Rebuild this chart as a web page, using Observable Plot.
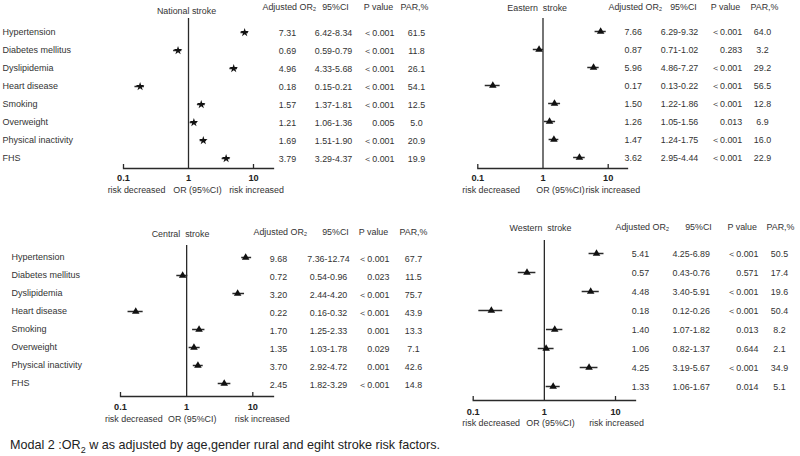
<!DOCTYPE html>
<html><head><meta charset="utf-8">
<script src="https://cdn.jsdelivr.net/npm/d3@7"></script>
<script src="https://cdn.jsdelivr.net/npm/@observablehq/plot@0.6"></script>
<style>
body{margin:0;background:#fff;font-family:"Liberation Sans",Arial,sans-serif;}
#wrap{position:relative;width:800px;height:456px;overflow:hidden;background:#fff;}
.panel{position:absolute;}
#caption{position:absolute;left:10px;top:438px;font-size:12.6px;line-height:14px;color:#222;white-space:pre;}
#caption sub{font-size:9px;}
</style></head><body>
<div id="wrap"><div id="caption">Modal 2 :OR<sub>2</sub> w as adjusted by age,gender rural and egiht stroke risk factors.</div></div>
<script>
// ---------- data ----------
const factors = ["Hypertension","Diabetes mellitus","Dyslipidemia","Heart disease","Smoking","Overweight","Physical inactivity","FHS"];
const axisTicks = [0.1, 1, 10];
const headers = ["Adjusted OR\u2082", "95%CI", "P value", "PAR,%"];
const bottomLabels = ["risk decreased", "OR (95%CI)", "risk increased"];

const nationalOR  = [7.31,0.69,4.96,0.18,1.57,1.21,1.69,3.79];
const nationalLo  = [6.42,0.59,4.33,0.15,1.37,1.06,1.51,3.29];
const nationalHi  = [8.34,0.79,5.68,0.21,1.81,1.36,1.90,4.37];
const nationalP   = ["\uFF1C0.001","\uFF1C0.001","\uFF1C0.001","\uFF1C0.001","\uFF1C0.001","0.005","\uFF1C0.001","\uFF1C0.001"];
const nationalPAR = [61.5,11.8,26.1,54.1,12.5,5.0,20.9,19.9];

const easternOR  = [7.66,0.87,5.96,0.17,1.50,1.26,1.47,3.62];
const easternLo  = [6.29,0.71,4.86,0.13,1.22,1.05,1.24,2.95];
const easternHi  = [9.32,1.02,7.27,0.22,1.86,1.56,1.75,4.44];
const easternP   = ["\uFF1C0.001","0.283","\uFF1C0.001","\uFF1C0.001","\uFF1C0.001","0.013","\uFF1C0.001","\uFF1C0.001"];
const easternPAR = [64.0,3.2,29.2,56.5,12.8,6.9,16.0,22.9];

const centralOR  = [9.68,0.72,3.20,0.22,1.70,1.35,3.70,2.45];
const centralLo  = [7.36,0.54,2.44,0.16,1.25,1.03,2.92,1.82];
const centralHi  = [12.74,0.96,4.20,0.32,2.33,1.78,4.72,3.29];
const centralP   = ["\uFF1C0.001","0.023","\uFF1C0.001","\uFF1C0.001","0.001","0.029","0.001","\uFF1C0.001"];
const centralPAR = [67.7,11.5,75.7,43.9,13.3,7.1,42.6,14.8];
// markers as actually drawn in the Central panel
const centralDrawnOR = [7.8,0.87,5.9,0.17,1.54,1.29,1.48,3.7];
const centralDrawnLo = [6.8,0.71,5.0,0.13,1.23,1.09,1.26,3.0];
const centralDrawnHi = [9.6,1.04,7.5,0.22,1.89,1.60,1.78,4.66];

const westernOR  = [5.41,0.57,4.48,0.18,1.40,1.06,4.25,1.33];
const westernLo  = [4.25,0.43,3.40,0.12,1.07,0.82,3.19,1.06];
const westernHi  = [6.89,0.76,5.91,0.26,1.82,1.37,5.67,1.67];
const westernP   = ["\uFF1C0.001","0.571","\uFF1C0.001","\uFF1C0.001","0.013","0.644","\uFF1C0.001","0.014"];
const westernPAR = [50.5,17.4,19.6,50.4,8.2,2.1,34.9,5.1];

// ---------- layout ----------
const panels = [
  {title:"National stroke", left:0, top:0, symbol:"star",
   or:nationalOR, lo:nationalLo, hi:nationalHi, dOr:nationalOR, dLo:nationalLo, dHi:nationalHi, p:nationalP, par:nationalPAR,
   x01:123, x10:253, axisEnd:273, rowTop:29.5, rowBot:159.5, valDy:1, labelX:2, lineTop:18, axisY:168, tickY:178, bottomY:190,
   titleX:186, titleY:11, bottomXs:[136,197,256], headY:7, headXs:[262,335,378,414], colXs:[287,333,394,416]},
  {title:"Eastern  stroke", left:400, top:0, symbol:"triangle",
   or:easternOR, lo:easternLo, hi:easternHi, dOr:easternOR, dLo:easternLo, dHi:easternHi, p:easternP, par:easternPAR,
   x01:77.3, x10:207.7, axisEnd:227, rowTop:29.5, rowBot:157.5, valDy:1, labelX:null, lineTop:18, axisY:168, tickY:178, bottomY:190,
   titleX:136.7, titleY:8, bottomXs:[90.7,160,212.3], headY:7, headXs:[208,283,325,364], colXs:[232.7,279,341.7,362]},
  {title:"Central  stroke", left:0, top:220, symbol:"triangle",
   or:centralOR, lo:centralLo, hi:centralHi, dOr:centralDrawnOR, dLo:centralDrawnLo, dHi:centralDrawnHi, p:centralP, par:centralPAR,
   x01:120, x10:252.3, axisEnd:273, rowTop:34.5, rowBot:166, valDy:1.5, labelX:11, lineTop:25, axisY:176, tickY:186.7, bottomY:199,
   titleX:180, titleY:14, bottomXs:[133.3,191.7,261.7], headY:11.7, headXs:[253,335,373,413], colXs:[278,328,389,413]},
  {title:"Western  stroke", left:400, top:220, symbol:"triangle",
   or:westernOR, lo:westernLo, hi:westernHi, dOr:westernOR, dLo:westernLo, dHi:westernHi, p:westernP, par:westernPAR,
   x01:72.7, x10:215, axisEnd:235, rowTop:30.5, rowBot:169, valDy:0.5, labelX:null, lineTop:20, axisY:180, tickY:191.7, bottomY:203,
   titleX:140, titleY:8, bottomXs:[90.7,150,216], headY:6.7, headXs:[215,298,341.7,380], colXs:[240,290.7,358,379]}
];

const W = 400, H = 215;
const ink = "#2a2a2a", txt = "#333";
const fs = 8.9;
const wrap = document.getElementById("wrap");

for (const P of panels) {
  const rows = factors.map((f, i) => ({
    f, or: P.or[i], lo: P.lo[i], hi: P.hi[i], dOr: P.dOr[i], dLo: P.dLo[i], dHi: P.dHi[i],
    p: P.p[i], par: P.par[i]
  }));
  const mT = P.lineTop, mB = H - P.axisY;
  const frameH = P.axisY - P.lineTop;
  const top = (yy) => yy - mT;       // offset from frame top
  const bot = (yy) => yy - P.axisY;  // offset from frame bottom
  const T = {fontSize: fs, fill: txt, lineAnchor: "middle"};
  const col = (i, text, anchor) => Plot.text(rows, {y: "f", frameAnchor: "left", dx: P.colXs[i] - P.x01, dy: P.valDy,
    text, textAnchor: anchor, ...T});
  const marks = [
    Plot.ruleX([1], {stroke: ink, strokeWidth: 1.3}),
    Plot.frame({anchor: "bottom", stroke: ink, strokeWidth: 1.3}),
    Plot.tickX([axisTicks[0], axisTicks[2]], {x: d => d, stroke: ink, strokeWidth: 1.3, insetTop: frameH - 4}),
    Plot.text(axisTicks, {x: d => d, frameAnchor: "bottom", dy: bot(P.tickY), text: d => String(d),
      textAnchor: "middle", lineAnchor: "middle", fontWeight: "bold", fontSize: 9.2, fill: "#222"}),
    Plot.ruleY(rows, {y: "f", x1: "dLo", x2: "dHi", stroke: ink, strokeWidth: 1.5}),
    Plot.dot(rows, {y: "f", x: "dOr", symbol: () => P.symbol, r: P.symbol === "star" ? 2.7 : 2.8, fill: "#111", stroke: "none"}),
    col(0, d => d.or.toFixed(2), "middle"),
    col(1, d => d.lo.toFixed(2) + "-" + d.hi.toFixed(2), "middle"),
    col(2, "p", "end"),
    col(3, d => d.par.toFixed(1), "middle"),
    Plot.text([P.title], {frameAnchor: "top-left", dx: P.titleX - P.x01, dy: top(P.titleY), text: d => d, textAnchor: "middle", ...T})
  ];
  bottomLabels.forEach((b, i) => marks.push(
    Plot.text([b], {frameAnchor: "bottom-left", dx: P.bottomXs[i] - P.x01, dy: bot(P.bottomY), text: d => d, textAnchor: "middle", ...T})));
  headers.forEach((h, i) => marks.push(
    Plot.text([h], {frameAnchor: "top-left", dx: P.headXs[i] - P.x01, dy: top(P.headY), text: d => d,
      textAnchor: i === 0 ? "start" : "middle", ...T})));
  if (P.labelX !== null) {
    marks.push(Plot.text(rows, {y: "f", frameAnchor: "left", dx: P.labelX - P.x01, text: "f", textAnchor: "start",
      ...T, fontSize: 9}));
  }
  const chart = Plot.plot({
    width: W, height: H,
    marginLeft: P.x01, marginRight: W - P.axisEnd, marginTop: mT, marginBottom: mB,
    style: {background: "transparent", overflow: "visible", fontFamily: "'Liberation Sans', Arial, sans-serif"},
    x: {type: "log", domain: [0.1, 10], range: [P.x01, P.x10], axis: null},
    y: {type: "point", domain: factors, range: [P.rowTop, P.rowBot], padding: 0, axis: null},
    marks
  });
  chart.classList.add("panel");
  chart.style.left = P.left + "px";
  chart.style.top = P.top + "px";
  wrap.appendChild(chart);
}
</script>
</body></html>
